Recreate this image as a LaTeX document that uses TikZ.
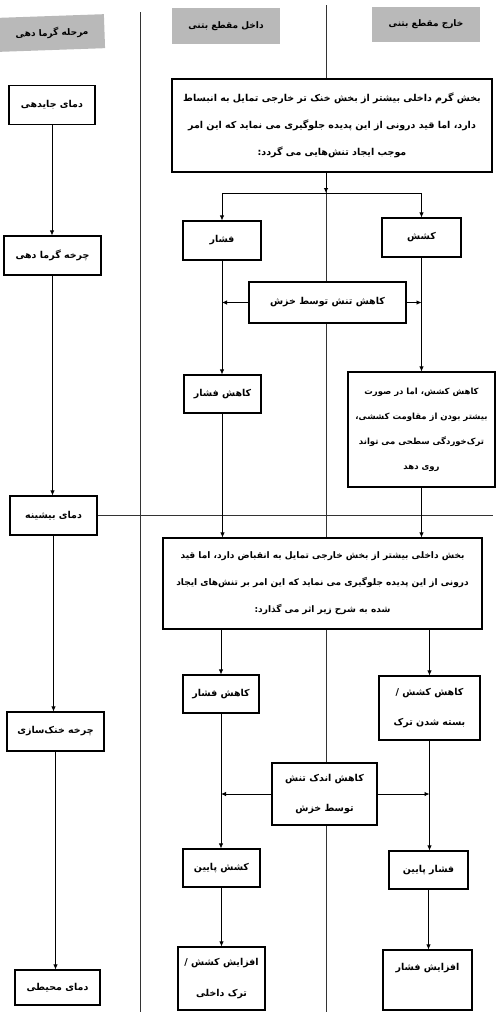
\documentclass[tikz,border=0pt]{standalone}
\usepackage{fontspec}
\usetikzlibrary{arrows.meta}
\TeXXeTstate=1
\newfontfamily\farsi[Script=Arabic]{DejaVu Sans}
\newcommand\FA[1]{\beginR #1\endR}
\tikzset{
  fbox/.style={draw, line width=1.1pt, fill=white, inner sep=1pt, align=center,
    font=\farsi\bfseries\fontsize{9.5}{27}\selectfont},
  hdr/.style={fill=gray!55, inner sep=0pt, align=center,
    font=\farsi\bfseries\fontsize{9}{10}\selectfont},
  sep/.style={line width=0.7pt, black!80},
  arr/.style={line width=0.8pt, -{Latex[length=5pt,width=4.5pt]}},
  ln/.style={line width=0.8pt}
}
\begin{document}
\begin{tikzpicture}[x=1pt,y=-1pt]
\useasboundingbox (0,0) rectangle (500,1017);
% separators
\draw[sep] (140,12) -- (140,1012);
\draw[sep] (326,5) -- (326,1012);
% headers
\node[hdr, minimum width=105, minimum height=34, rotate=2] (h1) at (52,33) {\FA{مرحله گرما دهی}};
\node[hdr, minimum width=108, minimum height=36] (h2) at (226,26) {\FA{داخل مقطع بتنی}};
\node[hdr, minimum width=108, minimum height=35] (h3) at (426,24) {\FA{خارج مقطع بتنی}};
% left column
\node[fbox, minimum width=86, minimum height=39] (l1) at (52,105) {\FA{دمای جایدهی}};
\node[fbox, minimum width=97, minimum height=39] (l2) at (52.5,255.5) {\FA{چرخه گرما دهی}};
\node[fbox, minimum width=87, minimum height=39] (l3) at (53.5,515.5) {\FA{دمای بیشینه}};
\node[fbox, minimum width=97, minimum height=39] (l4) at (55.5,731.5) {\FA{چرخه خنک‌سازی}};
\node[fbox, minimum width=85, minimum height=35] (l5) at (57.5,987.5) {\FA{دمای محیطی}};
\draw[sep] (l3.east) -- (493,515.5);
\draw[arr] (l1.south) -- (l1.south |- l2.north);
\draw[arr] (l2.south) -- (l2.south |- l3.north);
\draw[arr] (l3.south) -- (l3.south |- l4.north);
\draw[arr] (l4.south) -- (l4.south |- l5.north);
% top box
\node[fbox, minimum width=320, minimum height=93] (T) at (332,125.5)
  {\FA{بخش گرم داخلی بیشتر از بخش خنک تر خارجی تمایل به انبساط}\\
   \FA{دارد، اما قید درونی از این پدیده جلوگیری می نماید که این امر}\\
   \FA{موجب ایجاد تنش‌هایی می گردد:}};
\coordinate (J) at (326,193);
\node[fbox, minimum width=78, minimum height=39] (f1) at (222,240.5) {\FA{فشار}};
\node[fbox, minimum width=79, minimum height=39] (k1) at (421.5,237.5) {\FA{کشش}};
\draw[arr] (J |- T.south) -- (J);
\draw[ln] (f1.north |- J) -- (k1.north |- J);
\draw[arr] (f1.north |- J) -- (f1.north);
\draw[arr] (k1.north |- J) -- (k1.north);
\node[fbox, minimum width=157, minimum height=41] (c1) at (327.5,302.5) {\FA{کاهش تنش توسط خزش}};
\node[fbox, minimum width=77, minimum height=38] (f2) at (222.5,394) {\FA{کاهش فشار}};
\node[fbox, minimum width=147, minimum height=115, font=\farsi\bfseries\fontsize{8.5}{25}\selectfont] (k2) at (421.5,429.5)
  {\FA{کاهش کشش، اما در صورت}\\
   \FA{بیشتر بودن از مقاومت کششی،}\\
   \FA{ترک‌خوردگی سطحی می تواند}\\
   \FA{روی دهد}};
\draw[arr] (f1.south) -- (f1.south |- f2.north);
\draw[arr] (k1.south) -- (k1.south |- k2.north);
\draw[arr] (c1.west) -- (c1.west -| f1.south);
\draw[arr] (c1.east) -- (c1.east -| k1.south);
% second big box
\node[fbox, minimum width=319, minimum height=91, font=\farsi\bfseries\fontsize{9}{27}\selectfont] (B) at (322.5,583.5)
  {\FA{بخش داخلی بیشتر از بخش خارجی تمایل به انقباض دارد، اما قید}\\
   \FA{درونی از این پدیده جلوگیری می نماید که این امر بر تنش‌های ایجاد}\\
   \FA{شده به شرح زیر اثر می گذارد:}};
\draw[arr] (f2.south) -- (f2.south |- B.north);
\draw[arr] (k2.south) -- (k2.south |- B.north);
\node[fbox, minimum width=76, minimum height=38] (f3) at (221,694) {\FA{کاهش فشار}};
\node[fbox, minimum width=101, minimum height=64, font=\farsi\bfseries\fontsize{9.5}{30}\selectfont] (k3) at (429.5,708)
  {\FA{کاهش کشش /}\\ \FA{بسته شدن ترک}};
\draw[arr] (f3.north |- B.south) -- (f3.north);
\draw[arr] (k3.north |- B.south) -- (k3.north);
\node[fbox, minimum width=105, minimum height=62, font=\farsi\bfseries\fontsize{9.5}{30}\selectfont] (c2) at (324.5,794)
  {\FA{کاهش اندک تنش}\\ \FA{توسط خزش}};
\node[fbox, minimum width=77, minimum height=38] (f4) at (221.5,868) {\FA{کشش پایین}};
\node[fbox, minimum width=79, minimum height=38] (k4) at (428.5,870) {\FA{فشار پایین}};
\draw[arr] (f3.south) -- (f3.south |- f4.north);
\draw[arr] (k3.south) -- (k3.south |- k4.north);
\draw[arr] (c2.west) -- (c2.west -| f3.south);
\draw[arr] (c2.east) -- (c2.east -| k3.south);
\node[fbox, minimum width=87, minimum height=63, font=\farsi\bfseries\fontsize{9.5}{31}\selectfont] (f5) at (221.5,978.5)
  {\FA{افزایش کشش /}\\ \FA{ترک داخلی}};
\node[fbox, minimum width=89, minimum height=60] (k5) at (427.5,980)
  {\FA{افزایش فشار}\\ \mbox{}};
\draw[arr] (f4.south) -- (f4.south |- f5.north);
\draw[arr] (k4.south) -- (k4.south |- k5.north);
\end{tikzpicture}
\end{document}
